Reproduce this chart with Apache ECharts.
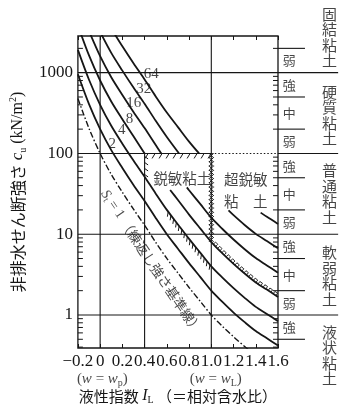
<!DOCTYPE html>
<html><head><meta charset="utf-8">
<script src="https://cdn.jsdelivr.net/npm/echarts@6/dist/echarts.min.js"></script>
<style>html,body{margin:0;padding:0;background:#fff}#c{width:349px;height:416px}</style>
</head><body><div id="c"></div><script>
const FONT = "'Liberation Serif','Noto Sans CJK JP',serif";
const CJK = "'Noto Sans CJK JP','Liberation Serif',sans-serif";
const INK = '#161616';

// ---- axes ----
const xTickLabels = ['\u22120.2','0','0.2','0.4','0.6','0.8','1.0','1.2','1.4','1.6'];
const yTickLabels = [1, 10, 100, 1000];
const yMinorTicks = [0.4,0.5,0.6,0.7,0.8,0.9,2,3,4,5,6,7,8,9,20,30,40,50,60,70,80,90,200,300,400,500,600,700,800,900,2000];
const X_MIN = -0.2, X_MAX = 1.6, Y_MIN = 0.39, Y_MAX = 2845;

// ---- notes under the x axis: (w = wp) at IL 0, (w = wL) at IL 1.0 ----
const wNoteSub = ['p', 'L'];
const wNoteIL = [0.02, 1.04];
const wNoteCu = [0.161, 0.161];

// ---- St curves [IL, cu (kN/m2)] ----
const curveSt1 = [[-0.2,479],[-0.1,204],[0,100],[0.1,55],[0.2,33.1],[0.3,20.4],[0.4,12.9],[0.5,7.94],[0.6,5.01],[0.7,3.31],[0.8,2.19],[0.9,1.48],[1.0,1.0],[1.1,0.724],[1.2,0.537],[1.3,0.407],[1.4,0.316]];
const curveSt2 = [[-0.2,957],[-0.1,408],[0,200],[0.1,110],[0.2,66.2],[0.3,40.8],[0.4,25.8],[0.5,15.9],[0.6,10.0],[0.7,6.62],[0.8,4.38],[0.9,2.96],[1.0,2.0],[1.1,1.45],[1.2,1.07],[1.3,0.815],[1.4,0.632],[1.5,0.514],[1.6,0.418]];
const curveSt4 = [[-0.2,1914],[-0.1,817],[0,400],[0.1,220],[0.2,132],[0.3,81.7],[0.4,51.5],[0.5,31.8],[0.6,20.0],[0.7,13.2],[0.8,8.75],[0.9,5.92],[1.0,4.0],[1.1,2.90],[1.2,2.15],[1.3,1.63],[1.4,1.26],[1.5,1.03],[1.6,0.836]];
const curveSt8Upper = [[-0.2,3829],[-0.1,1634],[0,800],[0.1,440],[0.2,265],[0.3,163],[0.4,100]];
const curveSt8Lower = [[0.63,35.3],[0.7,26.5],[0.8,17.5],[0.9,11.8],[1.0,8.0],[1.1,5.80],[1.2,4.30],[1.3,3.26],[1.4,2.53],[1.5,2.06],[1.6,1.67]];
const curveSt16Upper = [[-0.1,3267],[0,1600],[0.1,879],[0.2,530],[0.3,327],[0.4,206],[0.5,127],[0.55,100]];
const curveSt16Lower = [[0.78,38],[0.8,35],[0.9,23.7],[1.0,16],[1.1,11.6],[1.2,8.59],[1.3,6.52],[1.4,5.06],[1.5,4.11],[1.6,3.34]];
const curveSt32Upper = [[0,3200],[0.1,1758],[0.2,1060],[0.3,653],[0.4,412],[0.5,254],[0.6,160],[0.71,100]];
const curveSt32Lower = [[1.155,19.7],[1.2,17.2],[1.3,13.0],[1.4,10.1],[1.5,8.22],[1.6,6.68]];
const curveSt64Upper = [[0.1,3516],[0.2,2119],[0.3,1307],[0.4,824],[0.5,508],[0.6,321],[0.7,212],[0.8,140],[0.89,100]];
const curveSt64Lower = [[1.444,18.5],[1.5,16.4],[1.6,13.4]];

// ---- St labels ----
const stLabels = ['2','4','8','16','32','64'];
const stLabelIL = [0.108,0.195,0.264,0.303,0.393,0.46];
const stLabelCu = [132,192,263,417,633,948];

// ---- reference lines ----
const gridCu = [1, 10, 100, 1000];
const gridIL = [0, 1.0];
const sensitiveIL = [0.4, 1.0];
const sensitiveTopCu = 100;

// ---- region labels ----
const regionLabels = ['鋭敏粘土', '超鋭敏', '粘　土'];
const regionIL = [0.739, 1.31, 1.31];
const regionCu = [49, 47, 25.4];
const remoldNoteIL = 0.461, remoldNoteCu = 4.56;

// ---- right classification panel ----
const subBoundsCu = [2000, 500, 200, 50, 20, 5, 2, 0.5];
const strengthLabels = ['弱','強','中','弱','強','中','弱','強','中','弱','強'];
const strengthCu = [1414, 707, 316, 141, 70.7, 31.6, 14.1, 7.07, 3.16, 1.41, 0.707];
const classLabels = ['固結粘土','硬質粘土','普通粘土','軟弱粘土','液状粘土'];
const classCu = [2730, 295, 31.5, 3.04, 0.316];

// ---- build ----
const chart = echarts.init(document.getElementById('c'), null, {renderer:'canvas'});

const refSegs = [];
gridCu.forEach(c => {
  if (c === sensitiveTopCu) {
    refSegs.push([X_MIN, c, sensitiveIL[1], c, 0]);
    refSegs.push([sensitiveIL[1], c, X_MAX, c, 1]);
  } else refSegs.push([X_MIN, c, X_MAX, c, 0]);
});
gridIL.forEach(x => refSegs.push([x, Y_MIN, x, Y_MAX, 0]));
refSegs.push([sensitiveIL[0], Y_MIN, sensitiveIL[0], sensitiveTopCu, 0]);

const rightSegs = [];
gridCu.forEach(c => rightSegs.push([0, c, 0.97, c]));
subBoundsCu.forEach(c => rightSegs.push([0, c, 0.435, c]));

const hatchDefs = [
  {pts: [[sensitiveIL[0], sensitiveTopCu], [sensitiveIL[1], sensitiveTopCu]], kind:'slash', vec:[-3,5], step:7},
  {pts: [[sensitiveIL[0], sensitiveTopCu], [sensitiveIL[0], 51.5]], kind:'slash', vec:[3.5,2.5], step:6},
  {pts: [[sensitiveIL[1], sensitiveTopCu], [sensitiveIL[1], 8.0]], kind:'cross', step:4.2},
  {pts: curveSt4.filter(p => p[0] >= 0.6 && p[0] <= 1.0), kind:'slash', vec:[-0.8,5], step:4.5},
  {pts: curveSt8Lower.filter(p => p[0] >= 1.0), kind:'box', step:6}
];

function seg(x1,y1,x2,y2,w,dash){
  return {type:'line', shape:{x1,y1,x2,y2}, style:{stroke:INK, lineWidth:w||1, lineDash:dash||null}};
}

function hatchRender(params, api){
  const def = hatchDefs[api.value(0)];
  const px = def.pts.map(p => api.coord(p));
  const segs = []; let total = 0;
  for (let i=0;i<px.length-1;i++){
    const dx = px[i+1][0]-px[i][0], dy = px[i+1][1]-px[i][1];
    const L = Math.hypot(dx,dy);
    if (L < 1e-6) continue;
    segs.push({a:px[i], dx, dy, L, start:total}); total += L;
  }
  const at = s => {
    for (let k=0;k<segs.length;k++){
      const g = segs[k];
      if (s <= g.start+g.L || k === segs.length-1){
        const t = (s-g.start)/g.L;
        return {x:g.a[0]+g.dx*t, y:g.a[1]+g.dy*t, tx:g.dx/g.L, ty:g.dy/g.L};
      }
    }
  };
  const children = [];
  for (let s = def.step/2; s < total; s += def.step){
    const p = at(s);
    if (def.kind === 'slash'){
      children.push(seg(p.x, p.y, p.x+def.vec[0], p.y+def.vec[1], 1));
    } else if (def.kind === 'cross'){
      const r = 2.3;
      children.push(seg(p.x-r,p.y-r,p.x+r,p.y+r,1), seg(p.x-r,p.y+r,p.x+r,p.y-r,1));
    } else {
      const q = at(Math.min(s+3.2, total));
      const nx = p.ty, ny = -p.tx, h = 3;
      children.push({type:'polyline', shape:{points:[[p.x,p.y],[p.x+nx*h,p.y+ny*h],[q.x+nx*h,q.y+ny*h],[q.x,q.y]]},
        style:{stroke:INK, fill:null, lineWidth:0.9}});
    }
  }
  return {type:'group', children};
}

function curve(data, dashed){
  return {type:'line', xAxisIndex:0, yAxisIndex:0, data, smooth:0.3, symbol:'none', showSymbol:false,
    silent:true, z:3, clip:true,
    lineStyle:{color:INK, width: dashed ? 1.4 : 1.8, type: dashed ? [6,2.2,1.6,2.2] : 'solid'}};
}

const noteRich = {
  p:{fontFamily:FONT, fontSize:15, lineHeight:18, color:INK},
  i:{fontFamily:FONT, fontSize:15, lineHeight:18, fontStyle:'italic', color:INK},
  s:{fontFamily:FONT, fontSize:10, lineHeight:18, verticalAlign:'bottom', color:INK}
};

const option = {
  animation:false,
  backgroundColor:'#fff',
  grid:[
    {left:70, top:36, width:208, height:312, show:true, borderColor:INK, borderWidth:1.3, backgroundColor:'transparent'},
    {left:278, top:36, width:62, height:312, show:false}
  ],
  xAxis:[
    {gridIndex:0, type:'value', min:X_MIN, max:X_MAX, interval:0.2, position:'bottom',
     axisLine:{show:false}, splitLine:{show:false},
     axisTick:{show:true, inside:true, length:4, lineStyle:{color:INK, width:1}},
     axisLabel:{margin:5, color:INK, fontFamily:FONT, fontSize:17,
       showMinLabel:true, showMaxLabel:true, hideOverlap:false,
       formatter:(v)=> xTickLabels[Math.round((v - X_MIN)/0.2)] || ''},
     name:'{c|液性指数 }{i|I}{s|L}{c| （＝相対含水比）}', nameLocation:'middle', nameGap:39,
     nameTextStyle:{rich:{
       c:{fontFamily:CJK, fontSize:15, color:INK, lineHeight:18},
       i:{fontFamily:FONT, fontSize:16, fontStyle:'italic', color:INK, lineHeight:18},
       s:{fontFamily:FONT, fontSize:10, color:INK, verticalAlign:'bottom', lineHeight:18}}}
    },
    {gridIndex:0, type:'value', min:X_MIN, max:X_MAX, interval:0.2, position:'top',
     axisLine:{show:false}, splitLine:{show:false}, axisLabel:{show:false},
     axisTick:{show:true, inside:true, length:4, lineStyle:{color:INK, width:1}}},
    {gridIndex:1, type:'value', min:0, max:1, show:false}
  ],
  yAxis:[
    {gridIndex:0, type:'log', logBase:10, min:Y_MIN, max:Y_MAX,
     axisLine:{show:false}, axisTick:{show:false}, splitLine:{show:false},
     axisLabel:{margin:5, color:INK, fontFamily:FONT, fontSize:17,
       formatter:(v)=>{
         const r = Math.round(v);
         return yTickLabels.some(t => Math.abs(t - v) < 1e-6*t) ? String(r) : '';
       }},
     name:'{c|非排水せん断強さ}{l| }{i|c}{s|u}{l| (kN/m}{sup|2}{l|)}', nameLocation:'middle', nameGap:47,
     nameTextStyle:{rich:{
       c:{fontFamily:CJK, fontSize:16, color:INK, lineHeight:20},
       l:{fontFamily:FONT, fontSize:16, color:INK, lineHeight:20},
       i:{fontFamily:FONT, fontSize:17, fontStyle:'italic', color:INK, lineHeight:20},
       s:{fontFamily:FONT, fontSize:10, color:INK, verticalAlign:'bottom', lineHeight:20},
       sup:{fontFamily:FONT, fontSize:10, color:INK, verticalAlign:'top', lineHeight:20}}}
    },
    {gridIndex:1, type:'log', logBase:10, min:Y_MIN, max:Y_MAX, show:false}
  ],
  series:[
    {type:'custom', xAxisIndex:0, yAxisIndex:0, silent:true, z:2, data:refSegs,
     renderItem:(params, api)=>{
       const a = api.coord([api.value(0), api.value(1)]);
       const b = api.coord([api.value(2), api.value(3)]);
       return seg(a[0],a[1],b[0],b[1], 1.1, api.value(4) ? [1.5,2] : null);
     }},
    {type:'custom', xAxisIndex:0, yAxisIndex:0, silent:true, z:2, data:yMinorTicks.map(v=>[X_MIN, v]),
     renderItem:(params, api)=>{
       const l = api.coord([X_MIN, api.value(1)]);
       const r = api.coord([X_MAX, api.value(1)]);
       return {type:'group', children:[seg(l[0], l[1], l[0]+5, l[1], 1), seg(r[0]-5, r[1], r[0], r[1], 1)]};
     }},
    {type:'custom', xAxisIndex:2, yAxisIndex:1, silent:true, z:2, data:rightSegs,
     renderItem:(params, api)=>{
       const a = api.coord([api.value(0), api.value(1)]);
       const b = api.coord([api.value(2), api.value(3)]);
       return seg(a[0],a[1],b[0],b[1], 1.1);
     }},
    curve(curveSt1, true),
    curve(curveSt2), curve(curveSt4),
    curve(curveSt8Upper), curve(curveSt8Lower),
    curve(curveSt16Upper), curve(curveSt16Lower),
    curve(curveSt32Upper), curve(curveSt32Lower),
    curve(curveSt64Upper), curve(curveSt64Lower),
    {type:'custom', xAxisIndex:0, yAxisIndex:0, silent:true, z:3, data:hatchDefs.map((d,i)=>[i,1]),
     renderItem:hatchRender},
    {type:'scatter', xAxisIndex:0, yAxisIndex:0, symbolSize:0, clip:false, silent:true, z:5,
     data: stLabels.map((t,i)=>({name:t, value:[stLabelIL[i], stLabelCu[i]]})),
     label:{show:true, position:'inside', formatter:'{b}', fontFamily:FONT, fontSize:15, color:INK}},
    {type:'scatter', xAxisIndex:0, yAxisIndex:0, symbolSize:0, clip:false, silent:true, z:5,
     data: wNoteSub.map((t,i)=>({name:t, value:[wNoteIL[i], wNoteCu[i]]})),
     label:{show:true, position:'inside', rich:noteRich,
       formatter:(p)=>'{p|(}{i|w}{p| = }{i|w}{s|'+p.name+'}{p|)}'}},
    {type:'scatter', xAxisIndex:0, yAxisIndex:0, symbolSize:0, clip:false, silent:true, z:5,
     data: regionLabels.map((t,i)=>({name:t, value:[regionIL[i], regionCu[i]]})),
     label:{show:true, position:'inside', formatter:'{b}', fontFamily:CJK, fontSize:14.5, color:INK}},
    {type:'scatter', xAxisIndex:0, yAxisIndex:0, symbolSize:0, clip:false, silent:true, z:5,
     data:[{name:'St1', value:[remoldNoteIL, remoldNoteCu]}],
     label:{show:true, position:'inside', rotate:-56,
       formatter:'{i|S}{s|t}{n| = 1 }{c|（練返し強さ基準線）}',
       rich:{i:{fontFamily:FONT, fontSize:14, fontStyle:'italic', color:INK, lineHeight:16},
             s:{fontFamily:FONT, fontSize:9, color:INK, verticalAlign:'bottom', lineHeight:16},
             n:{fontFamily:FONT, fontSize:14, color:INK, lineHeight:16},
             c:{fontFamily:CJK, fontSize:13.5, color:INK, lineHeight:16}}}},
    {type:'scatter', xAxisIndex:2, yAxisIndex:1, symbolSize:0, clip:false, silent:true, z:5,
     data: strengthLabels.map((t,i)=>({name:t, value:[0.18, strengthCu[i]]})),
     label:{show:true, position:'inside', formatter:'{b}', fontFamily:CJK, fontSize:13, color:INK}},
    {type:'scatter', xAxisIndex:2, yAxisIndex:1, symbolSize:0, clip:false, silent:true, z:5,
     data: classLabels.map((t,i)=>({name:t.split('').join('\n'), value:[0.83, classCu[i]]})),
     label:{show:true, position:'inside', formatter:'{b}', fontFamily:CJK, fontSize:15, lineHeight:15.5, color:INK}}
  ]
};
chart.setOption(option);
</script></body></html>
